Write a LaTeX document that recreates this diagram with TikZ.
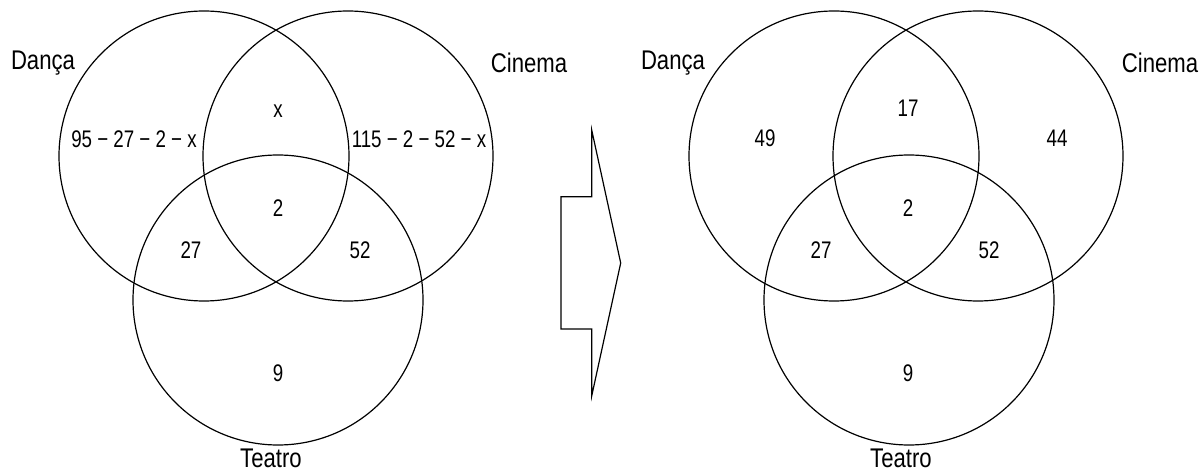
\documentclass[tikz,border=0pt]{standalone}
\usepackage{fontspec}
\setmainfont{Liberation Sans}[FakeStretch=0.82]
\newfontfamily\numfont{Liberation Sans}[FakeStretch=0.78]
\begin{document}
\begin{tikzpicture}[x=0.5pt,y=-0.5pt,
  venn/.style={draw, circle, line width=0.6pt, minimum size=145pt, inner sep=0pt},
  num/.style={font=\numfont\fontsize{12}{14}\selectfont, inner sep=0pt},
  lab/.style={font=\fontsize{13.5}{16}\selectfont, inner sep=0pt},
  shape line/.style={line width=0.6pt, line join=miter}]
\useasboundingbox (0,0) rectangle (1200,470);
% left diagram
\node[venn] (ld) at (204,156) {};
\node[venn] (lc) at (348,156) {};
\node[venn] (lt) at (278,300) {};
\node[lab] (ldl) at (43,63) {Dança};
\node[lab] (lcl) at (529,63) {Cinema};
\node[lab] (ltl) at (271,458) {Teatro};
\node[num] (lx) at (278,111) {x};
\node[num] (lda) at (134,139) {95 − 27 − 2 − x};
\node[num] (lci) at (419,139) {115 − 2 − 52 − x};
\node[num] (l2) at (278,208) {2};
\node[num] (l27) at (191,250) {27};
\node[num] (l52) at (360,250) {52};
\node[num] (l9) at (278,373) {9};
% arrow
\draw[shape line] (591.7,130) -- (620.7,263) -- (591.7,396) -- (591.7,329) -- (561,329) -- (561,196.7) -- (591.7,196.7) -- cycle;
% right diagram
\node[venn] (rd) at (834,156) {};
\node[venn] (rc) at (978,156) {};
\node[venn] (rt) at (909,300) {};
\node[lab] (rdl) at (673,63) {Dança};
\node[lab] (rcl) at (1160,63) {Cinema};
\node[lab] (rtl) at (901,458) {Teatro};
\node[num] (r17) at (908,108) {17};
\node[num] (r49) at (765,138) {49};
\node[num] (r44) at (1057,138) {44};
\node[num] (r2) at (908,208) {2};
\node[num] (r27) at (821,250) {27};
\node[num] (r52) at (989,250) {52};
\node[num] (r9) at (908,373) {9};
\end{tikzpicture}
\end{document}
